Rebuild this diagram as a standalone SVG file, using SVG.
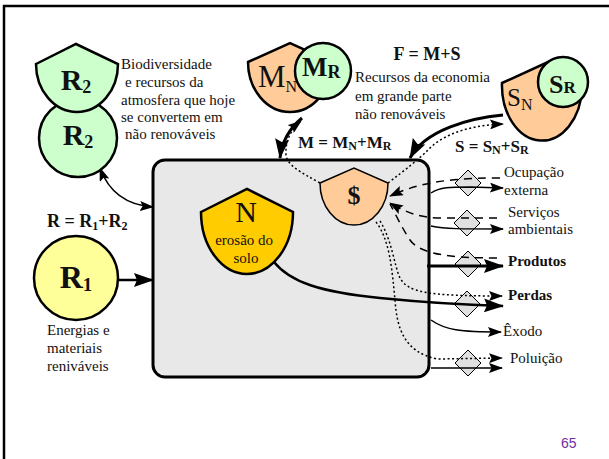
<svg xmlns="http://www.w3.org/2000/svg" width="609" height="459" viewBox="0 0 609 459">
  <style>
    .serif { font-family: "Liberation Serif", "Times New Roman", serif; fill: #111; }
    .lbl { font-size: 15px; }
    .bold { font-weight: bold; }
    .ln { fill: none; stroke: #000; stroke-width: 1.5; }
    .thick { stroke-width: 3; }
    .mid { stroke-width: 2.5; }
    .dot { stroke-dasharray: 2 2.5; }
    .dash { stroke-dasharray: 8 6; }
    .shape { stroke: #000; stroke-width: 2.5; }
    .green { fill: #ccffcc; }
    .peach { fill: #ffcc99; }
    .gate { fill: #e0e0e0; stroke: #000; stroke-width: 1; }
  </style>
  <defs>
    <marker id="ah" viewBox="0 0 14 10" refX="13" refY="5" markerWidth="14" markerHeight="10" markerUnits="userSpaceOnUse" orient="auto-start-reverse">
      <path d="M0,0 L14,5 L0,10 L2.5,5 Z" fill="#000"/>
    </marker>
    <marker id="ahb" viewBox="0 0 20 14" refX="19" refY="7" markerWidth="20" markerHeight="14" markerUnits="userSpaceOnUse" orient="auto">
      <path d="M0,0 L20,7 L0,14 L3,7 Z" fill="#000"/>
    </marker>
  </defs>

  <!-- slide frame (top and left edges) -->
  <path d="M4,459 L4,6 L609,6" fill="none" stroke="#000" stroke-width="2.5"/>

  <!-- system boundary -->
  <g id="system">
    <rect x="153" y="160" width="276" height="217" rx="12" fill="#e8e8e8" stroke="#000" stroke-width="3"/>
  </g>

  <!-- transaction gates on the outputs -->
  <g id="gates">
    <polygon class="gate" points="468,170 481,183 468,196 455,183"/>
    <polygon class="gate" points="467,210 480,223 467,236 454,223"/>
    <polygon class="gate" points="468,251 481,264 468,277 455,264"/>
    <polygon class="gate" points="467,291 480,304 467,317 454,304"/>
    <polygon class="gate" points="468,350 481,363 468,376 455,363"/>
  </g>

  <g id="connectors">
    <!-- renewable inputs -->
    <path class="ln mid" d="M118,280 L153,280" marker-end="url(#ahb)"/>
    <path class="ln" d="M100,168 C 108,190 125,205 153,207" marker-start="url(#ah)" marker-end="url(#ah)"/>
    <!-- materials from the economy -->
    <path class="ln thick" d="M302,118 C 290,128 282,140 280,158" marker-end="url(#ahb)"/>
    <path class="ln dot" d="M320,183 C 300,172 287,165 286,155 C 285,140 292,128 301,121" marker-end="url(#ah)"/>
    <!-- services from the economy -->
    <path class="ln thick" d="M503,115 C 470,118 425,130 410,158" marker-end="url(#ahb)"/>
    <path class="ln dot" d="M388,183 C 405,170 418,160 428,150 C 445,132 475,125 503,124" marker-end="url(#ah)"/>
    <!-- payments back to the money node -->
    <path class="ln dash" d="M500,178 C 460,178 425,180 390,196" marker-end="url(#ah)"/>
    <path class="ln dash" d="M497,218 L440,218 C 420,218 405,212 390,203" marker-end="url(#ah)"/>
    <path class="ln dash" d="M497,258 C 455,258 420,255 410,240 C 402,228 396,215 390,204"/>
    <!-- outputs -->
    <path class="ln" d="M431,193 C 440,187 450,187 470,187 L503,188" marker-end="url(#ah)"/>
    <path class="ln" d="M431,226 C 445,229 460,229 503,229" marker-end="url(#ah)"/>
    <path class="ln thick" d="M427,266 L503,266" marker-end="url(#ahb)"/>
    <path class="ln mid" d="M274,262 C 290,282 320,292 380,298 C 430,303 470,305 503,306" marker-end="url(#ahb)"/>
    <path class="ln dot" d="M380,221 C 392,240 394,265 400,278 C 408,292 425,296 502,296" marker-end="url(#ah)"/>
    <path class="ln" d="M431,320 C 445,330 460,332 501,332" marker-end="url(#ah)"/>
    <path class="ln dot" d="M376,222 C 390,240 392,270 395,300 C 397,330 405,352 437,359 L502,358" marker-end="url(#ah)"/>
    <path class="ln" d="M431,368 L502,368" marker-end="url(#ah)"/>
  </g>

  <!-- non-renewable natural stocks -->
  <g id="R2">
    <circle class="shape green" cx="78" cy="138" r="39"/>
    <path class="shape green" d="M36,64 L76,44 L118,64 A41 48 0 0 1 36 64 Z"/>
    <text class="serif bold" x="76" y="90" font-size="30" text-anchor="middle">R<tspan font-size="18" dy="3">2</tspan></text>
    <text class="serif bold" x="78" y="145" font-size="30" text-anchor="middle">R<tspan font-size="18" dy="3">2</tspan></text>
    <text class="serif lbl">
      <tspan x="121" y="69">Biodiversidade</tspan>
      <tspan x="125" y="87">e recursos da</tspan>
      <tspan x="121" y="105">atmosfera que hoje</tspan>
      <tspan x="121" y="122">se convertem em</tspan>
      <tspan x="125" y="139">não renováveis</tspan>
    </text>
  </g>

  <!-- renewable input -->
  <g id="R1">
    <circle cx="76" cy="278" r="42" fill="#ffff99" stroke="#000" stroke-width="2.5"/>
    <text class="serif bold" x="76" y="288" font-size="32" text-anchor="middle">R<tspan font-size="19" dy="3">1</tspan></text>
    <text class="serif bold" x="47" y="227" font-size="18">R = R<tspan font-size="12" dy="3">1</tspan><tspan dy="-3">+R</tspan><tspan font-size="12" dy="3">2</tspan></text>
    <text class="serif lbl">
      <tspan x="47" y="335">Energias e</tspan>
      <tspan x="47" y="353">materiais</tspan>
      <tspan x="47" y="371">reniváveis</tspan>
    </text>
  </g>

  <!-- purchased materials -->
  <g id="M">
    <path class="shape peach" d="M248,62 L290,43 L332,62 A42 50 0 0 1 248 62 Z"/>
    <circle class="shape green" cx="323" cy="71" r="28"/>
    <text class="serif" x="258" y="87" font-size="31">M<tspan font-size="16" dy="5">N</tspan></text>
    <text class="serif bold" x="302" y="76" font-size="27">M<tspan font-size="18" dy="2">R</tspan></text>
    <text class="serif bold" x="298" y="148" font-size="17">M = M<tspan font-size="12" dy="2">N</tspan><tspan dy="-2">+M</tspan><tspan font-size="12" dy="2">R</tspan></text>
  </g>

  <!-- economy labels -->
  <g id="F">
    <text class="serif bold" x="427" y="60" font-size="18" text-anchor="middle">F = M+S</text>
    <text class="serif lbl">
      <tspan x="355" y="82">Recursos da economia</tspan>
      <tspan x="355" y="101">em grande parte</tspan>
      <tspan x="355" y="119">não renováveis</tspan>
    </text>
  </g>

  <!-- purchased services -->
  <g id="S">
    <path class="shape peach" d="M502,83 L548,62 L582,88 A40 55 0 0 1 502 83 Z"/>
    <circle class="shape green" cx="563" cy="82" r="25"/>
    <text class="serif" x="507" y="106" font-size="25">S<tspan font-size="16" dy="4">N</tspan></text>
    <text class="serif bold" x="549" y="93" font-size="26">S<tspan font-size="17">R</tspan></text>
    <text class="serif bold" x="455" y="152" font-size="17">S = S<tspan font-size="12" dy="2">N</tspan><tspan dy="-2">+S</tspan><tspan font-size="12" dy="2">R</tspan></text>
  </g>

  <!-- money -->
  <g id="money">
    <path d="M320,183 L354,168 L388,183 A34 42 0 0 1 320 183 Z" fill="#ffcc99" stroke="#000" stroke-width="1.5"/>
    <text class="serif bold" x="354" y="204" font-size="26" text-anchor="middle">$</text>
  </g>

  <!-- soil stock -->
  <g id="N">
    <path class="shape" d="M201,212 L247,189 L293,212 A46 62 0 0 1 201 212 Z" fill="#ffcc00"/>
    <text class="serif" x="246" y="222" font-size="30" text-anchor="middle">N</text>
    <text class="serif lbl" text-anchor="middle">
      <tspan x="246" y="245">erosão do</tspan>
      <tspan x="246" y="263">solo</tspan>
    </text>
  </g>

  <!-- output labels -->
  <g id="outputs">
    <text class="serif lbl">
      <tspan x="504" y="177">Ocupação</tspan>
      <tspan x="504" y="195">externa</tspan>
    </text>
    <text class="serif lbl">
      <tspan x="508" y="217">Serviços</tspan>
      <tspan x="508" y="234">ambientais</tspan>
    </text>
    <text class="serif lbl bold" x="508" y="266">Produtos</text>
    <text class="serif lbl bold" x="508" y="300">Perdas</text>
    <text class="serif lbl" x="503" y="336">Êxodo</text>
    <text class="serif lbl" x="510" y="363">Poluição</text>
  </g>

  <text x="561" y="448" font-family="Liberation Sans, Arial, sans-serif" font-size="14" fill="#7030a0">65</text>
</svg>
